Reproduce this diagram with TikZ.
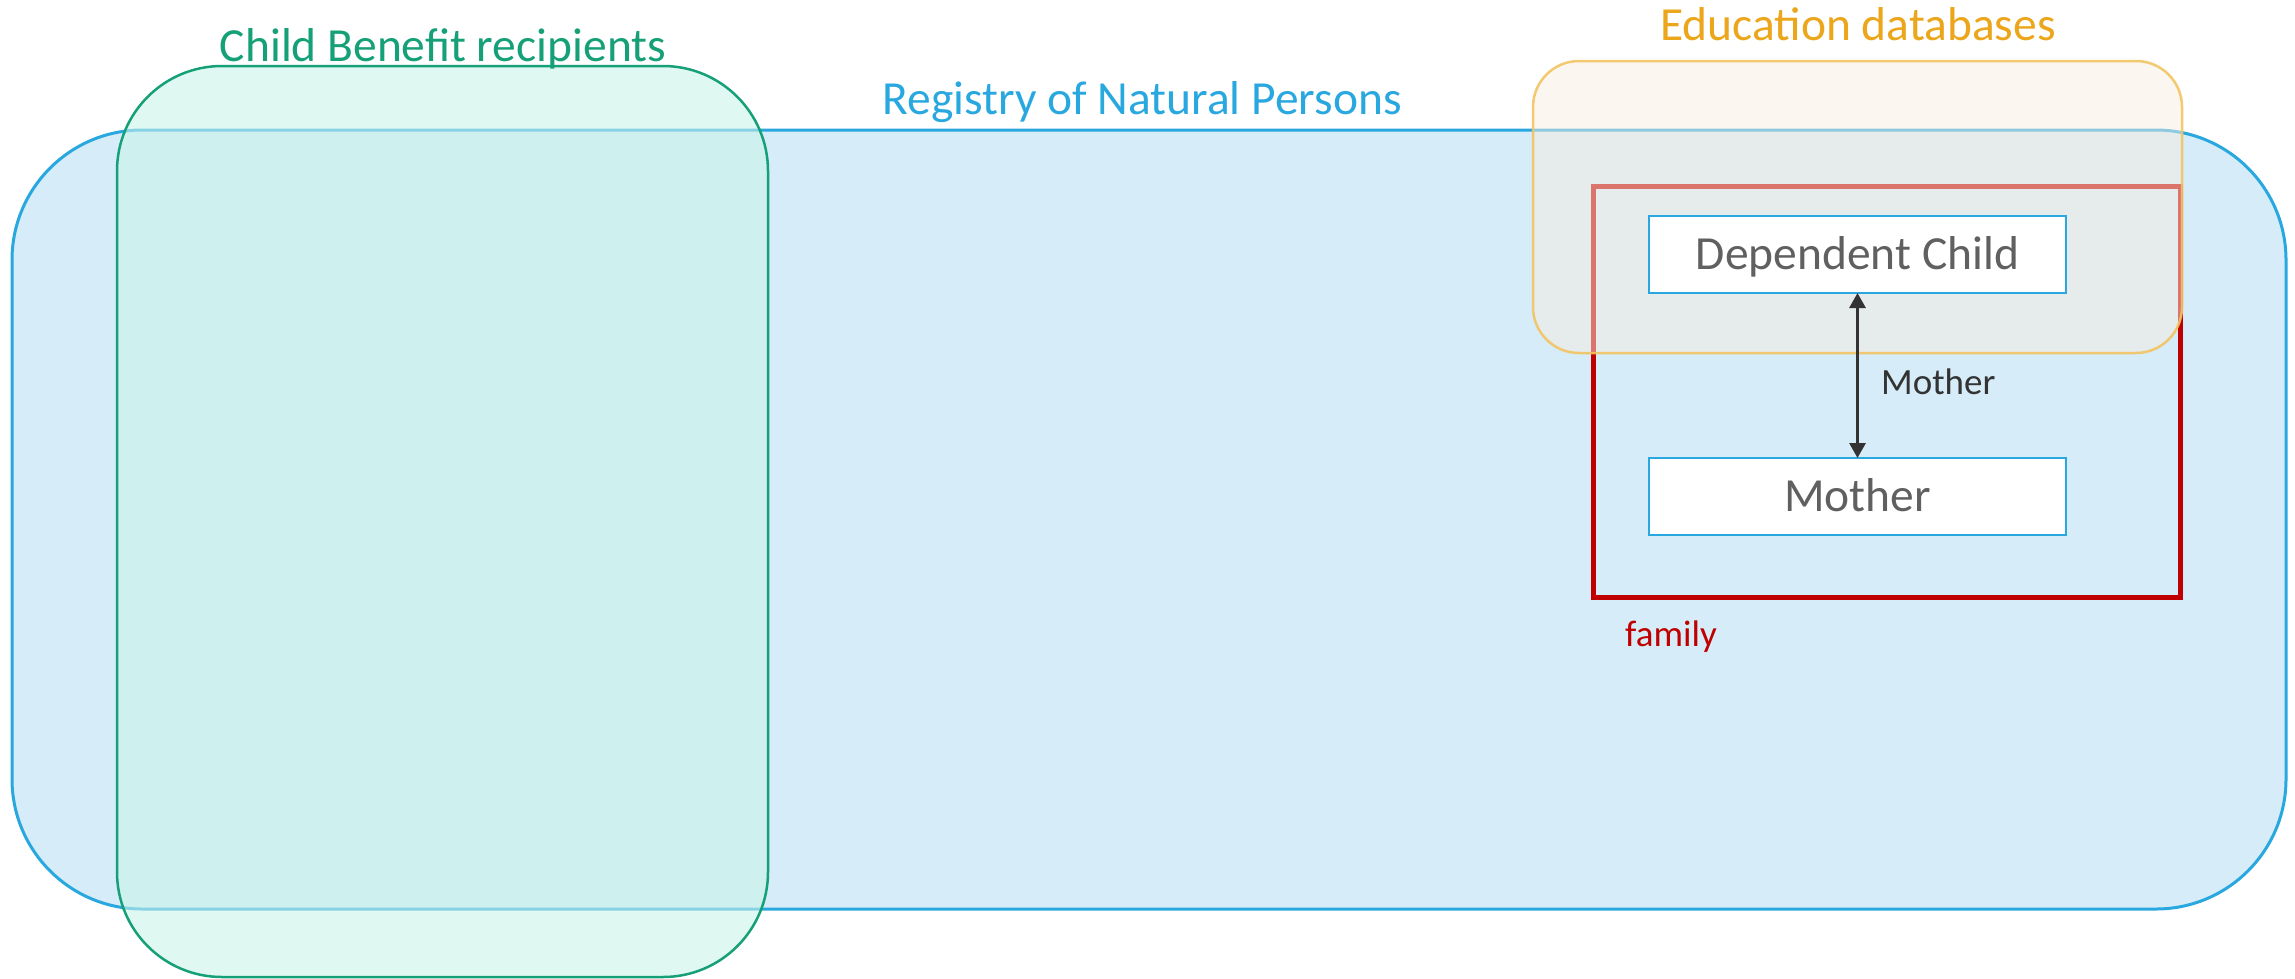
\documentclass[tikz,border=0pt]{standalone}
\usepackage{fontspec}
\setmainfont{Carlito}
\usetikzlibrary{arrows.meta}
\definecolor{regblue}{RGB}{41,168,224}
\definecolor{regfill}{RGB}{214,236,248}
\definecolor{cbgreen}{RGB}{22,160,120}
\definecolor{cbfill}{RGB}{202,243,233}
\definecolor{edustroke}{RGB}{242,196,98}
\definecolor{edufill}{RGB}{247,238,224}
\definecolor{edutext}{RGB}{236,166,28}
\definecolor{famred}{RGB}{192,0,0}
\definecolor{boxtext}{RGB}{96,96,96}
\definecolor{arrowgray}{RGB}{51,51,51}
\tikzset{
  bigfont/.style={font=\fontsize{47.5}{57}\selectfont},
  smallfont/.style={font=\fontsize{37}{44}\selectfont},
  container/.style={rectangle, inner sep=0pt, outer sep=0pt},
  registrybox/.style={container, draw=regblue, line width=3pt, fill=regfill, rounded corners=130pt},
  benefitbox/.style={container, draw=cbgreen, line width=2.5pt, fill=cbfill, fill opacity=0.585, draw opacity=1, rounded corners=105pt},
  edubox/.style={container, draw=edustroke, line width=2.5pt, fill=edufill, fill opacity=0.49, draw opacity=0.9, rounded corners=46pt},
  familybox/.style={container, draw=famred, line width=5pt},
  personbox/.style={rectangle, draw=regblue, line width=2pt, fill=white, inner sep=0pt, outer sep=0pt,
    minimum width=417pt, minimum height=77pt, bigfont, text=boxtext, text height=30.6pt, text depth=0pt},
  relarrow/.style={draw=arrowgray, line width=3pt, {Triangle[width=16pt,length=15pt]}-{Triangle[width=16pt,length=15pt]}},
}
\begin{document}
\begin{tikzpicture}[x=1pt,y=-1pt]
\useasboundingbox (0,0) rectangle (2295,978);
\node[registrybox, minimum width=2274pt, minimum height=779pt] (registry) at (1149,519.5) {};
\node[familybox, minimum width=587pt, minimum height=411pt] (family) at (1886.5,391.5) {};
\node[edubox, minimum width=649pt, minimum height=292pt] (edu) at (1857.5,207) {};
\node[benefitbox, minimum width=651pt, minimum height=911pt] (benefit) at (442.5,521.5) {};
\node[personbox] (child) at (1857.5,254.5) {Dependent Child};
\node[personbox] (mother) at (1857.5,496.5) {Mother};
\draw[relarrow] (child.south) -- (mother.north);
\node[smallfont, text=arrowgray, anchor=west, inner sep=0pt] (rellabel) at (1881,382) {Mother};
\node[smallfont, text=famred, anchor=west, inner sep=0pt] (familylabel) at (1625,637) {family};
\node[bigfont, text=regblue, anchor=base, inner sep=0pt] (registrylabel) at (1142,114) {Registry of Natural Persons};
\node[bigfont, text=cbgreen, anchor=base, inner sep=0pt] (benefitlabel) at (443,61) {Child Benefit recipients};
\node[bigfont, text=edutext, anchor=base, inner sep=0pt] (edulabel) at (1858,40) {Education databases};
\end{tikzpicture}
\end{document}
